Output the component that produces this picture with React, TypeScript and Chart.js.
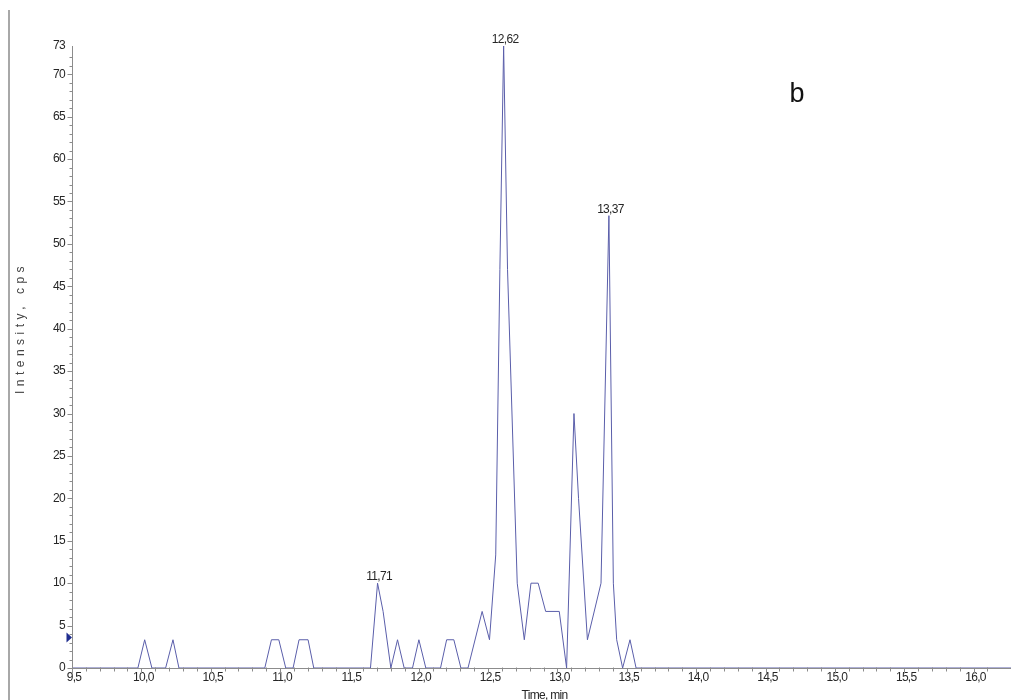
import React, { useEffect, useRef } from 'react';
import { Chart, registerables } from 'chart.js';

Chart.register(...registerables);

// Retention time (min) of each sample point of the trace
const timesMin: number[] = [
  9.5, 9.975, 10.024, 10.076, 10.175, 10.228, 10.271, 10.89, 10.938, 10.991,
  11.041, 11.094, 11.137, 11.202, 11.243, 11.652, 11.703, 11.743, 11.799, 11.847,
  11.895, 11.955, 12.001, 12.051, 12.157, 12.201, 12.253, 12.304, 12.355, 12.457,
  12.51, 12.555, 12.585, 12.612, 12.64, 12.71, 12.761, 12.809, 12.861, 12.915,
  13.013, 13.066, 13.119, 13.152, 13.216, 13.314, 13.371, 13.403, 13.427, 13.47,
  13.523, 13.567, 16.27,
];

// Intensity (cps) at each sample point
const intensityCps: number[] = [
  0, 0, 3.33, 0, 0, 3.33, 0, 0, 3.33, 3.33,
  0, 0, 3.33, 3.33, 0, 0, 10, 6.67, 0, 3.33,
  0, 0, 3.33, 0, 0, 3.33, 3.33, 0, 0, 6.67,
  3.33, 13.33, 47, 73.33, 47, 10, 3.33, 10, 10, 6.67,
  6.67, 0, 30, 20, 3.33, 10, 53.33, 10, 3.33, 0,
  3.33, 0, 0,
];

// Labelled peaks
const peakTimes: number[] = [11.703, 12.612, 13.371];
const peakLabels: string[] = ['11,71', '12,62', '13,37'];

const X_MIN = 9.5;
const X_MAX = 16.27;
const Y_MAX = 73.33;
const MARKER_LEVEL = 3.6;

const SANS = "'Liberation Sans', Arial, sans-serif";
const AXIS_COLOR = '#8c8c8c';
const TEXT_COLOR = '#262626';
const LINE_COLOR = '#5a5eaa';
const TIGHT = '-0.7px';

const isStep = (v: number, step: number) => Math.abs(v / step - Math.round(v / step)) < 1e-6;
const fmt = (v: number) => v.toFixed(1).replace('.', ',');

const setSpacing = (ctx: any, s: string) => {
  try { ctx.letterSpacing = s; } catch (e) { /* ignore */ }
};

const decoPlugin = {
  id: 'deco',
  beforeDraw(chart: any) {
    // condensed look for the tick labels drawn by Chart.js
    setSpacing(chart.ctx, TIGHT);
  },
  afterDraw(chart: any) {
    const { ctx, chartArea } = chart;
    const xs = chart.scales.x;
    const ys = chart.scales.y;
    ctx.save();

    // outer left frame line
    ctx.strokeStyle = '#a8a8a8';
    ctx.lineWidth = 2;
    ctx.beginPath();
    ctx.moveTo(9, 10);
    ctx.lineTo(9, 700);
    ctx.stroke();

    // axis lines
    ctx.strokeStyle = AXIS_COLOR;
    ctx.lineWidth = 1;
    const left = Math.round(chartArea.left) + 0.5;
    const bottom = Math.round(chartArea.bottom) + 0.5;
    ctx.beginPath();
    ctx.moveTo(left, chartArea.top);
    ctx.lineTo(left, bottom);
    ctx.lineTo(chartArea.right, bottom);
    ctx.stroke();

    // x ticks
    ctx.beginPath();
    xs.ticks.forEach((t: any) => {
      if (!isStep(t.value, 0.1)) return;
      const px = Math.round(xs.getPixelForValue(t.value)) + 0.5;
      const major = isStep(t.value, 0.5);
      ctx.moveTo(px, bottom - (major ? 0 : 1));
      ctx.lineTo(px, bottom + (major ? 5 : 3));
    });
    // y ticks
    ys.ticks.forEach((t: any) => {
      if (!isStep(t.value, 1)) return;
      const py = Math.round(ys.getPixelForValue(t.value)) + 0.5;
      const major = isStep(t.value, 5);
      ctx.moveTo(left - (major ? 5 : 3), py);
      ctx.lineTo(left, py);
    });
    ctx.stroke();

    // marker triangle on y axis
    const my = ys.getPixelForValue(MARKER_LEVEL);
    ctx.fillStyle = '#1f2d8f';
    ctx.beginPath();
    ctx.moveTo(left - 6, my - 5);
    ctx.lineTo(left - 0.5, my);
    ctx.lineTo(left - 6, my + 5);
    ctx.closePath();
    ctx.fill();

    // peak labels
    setSpacing(ctx, TIGHT);
    ctx.fillStyle = TEXT_COLOR;
    ctx.font = `12px ${SANS}`;
    ctx.textAlign = 'center';
    ctx.textBaseline = 'alphabetic';
    peakTimes.forEach((pt, i) => {
      let best = 0;
      timesMin.forEach((t, j) => {
        if (Math.abs(t - pt) < Math.abs(timesMin[best] - pt)) best = j;
      });
      const px = xs.getPixelForValue(timesMin[best]);
      const py = ys.getPixelForValue(intensityCps[best]);
      ctx.fillText(peakLabels[i], px + 1.5, py - 3);
    });

    // x title
    ctx.font = `12px ${SANS}`;
    ctx.fillText('Time, min', (chartArea.left + chartArea.right) / 2 + 3, 699);

    // y title (letter spaced, rotated)
    ctx.save();
    ctx.translate(24, 328);
    ctx.rotate(-Math.PI / 2);
    ctx.font = `12px ${SANS}`;
    ctx.fillStyle = '#444444';
    setSpacing(ctx, '4.5px');
    ctx.textAlign = 'center';
    ctx.fillText('Intensity, cps', 0, 0);
    ctx.restore();

    // panel letter
    setSpacing(ctx, '0px');
    ctx.font = `27px ${SANS}`;
    ctx.fillStyle = '#111111';
    ctx.textAlign = 'center';
    ctx.fillText('b', 797, 102);

    ctx.restore();
    setSpacing(ctx, '0px');
  },
};

export default function App() {
  const ref = useRef<HTMLCanvasElement>(null);

  useEffect(() => {
    document.body.style.margin = '0';
    const points = timesMin.map((t, i) => ({ x: t, y: intensityCps[i] }));
    const chart = new Chart(ref.current as HTMLCanvasElement, {
      type: 'line',
      data: {
        datasets: [
          {
            data: points,
            borderColor: LINE_COLOR,
            borderWidth: 1,
            pointRadius: 0,
            tension: 0,
            fill: false,
            clip: false as any,
          },
        ],
      },
      options: {
        responsive: false,
        animation: false,
        layout: { padding: { top: 46, right: 6, bottom: 0, left: 0 } },
        plugins: { legend: { display: false }, tooltip: { enabled: false } },
        scales: {
          x: {
            type: 'linear',
            min: X_MIN,
            max: X_MAX,
            grid: { display: false, drawTicks: false },
            border: { display: false },
            afterFit: (s: any) => { s.height = 32; },
            ticks: {
              stepSize: 0.1,
              autoSkip: false,
              maxRotation: 0,
              maxTicksLimit: 1000,
              padding: 2,
              labelOffset: 2,
              color: TEXT_COLOR,
              font: { family: SANS, size: 12 },
              callback: (v: any) => (isStep(Number(v), 0.5) && Number(v) <= 16.01 ? fmt(Number(v)) : ''),
            },
          },
          y: {
            type: 'linear',
            min: 0,
            max: Y_MAX,
            grid: { display: false, drawTicks: false },
            border: { display: false },
            afterFit: (s: any) => { s.width = 72; },
            ticks: {
              stepSize: 1,
              autoSkip: false,
              maxTicksLimit: 1000,
              padding: 7,
              color: TEXT_COLOR,
              font: { family: SANS, size: 12 },
              callback: (v: any) => {
                const n = Number(v);
                if (Math.abs(n - Y_MAX) < 1e-6) return String(Math.floor(Y_MAX));
                return isStep(n, 5) && n <= 70 ? String(Math.round(n)) : '';
              },
            },
          },
        },
      },
      plugins: [decoPlugin],
    });
    return () => chart.destroy();
  }, []);

  return (
    <div style={{ position: 'fixed', left: 0, top: 0, width: 1017, height: 700, background: '#fff' }}>
      <canvas ref={ref} width={1017} height={700} style={{ display: 'block' }} />
    </div>
  );
}
